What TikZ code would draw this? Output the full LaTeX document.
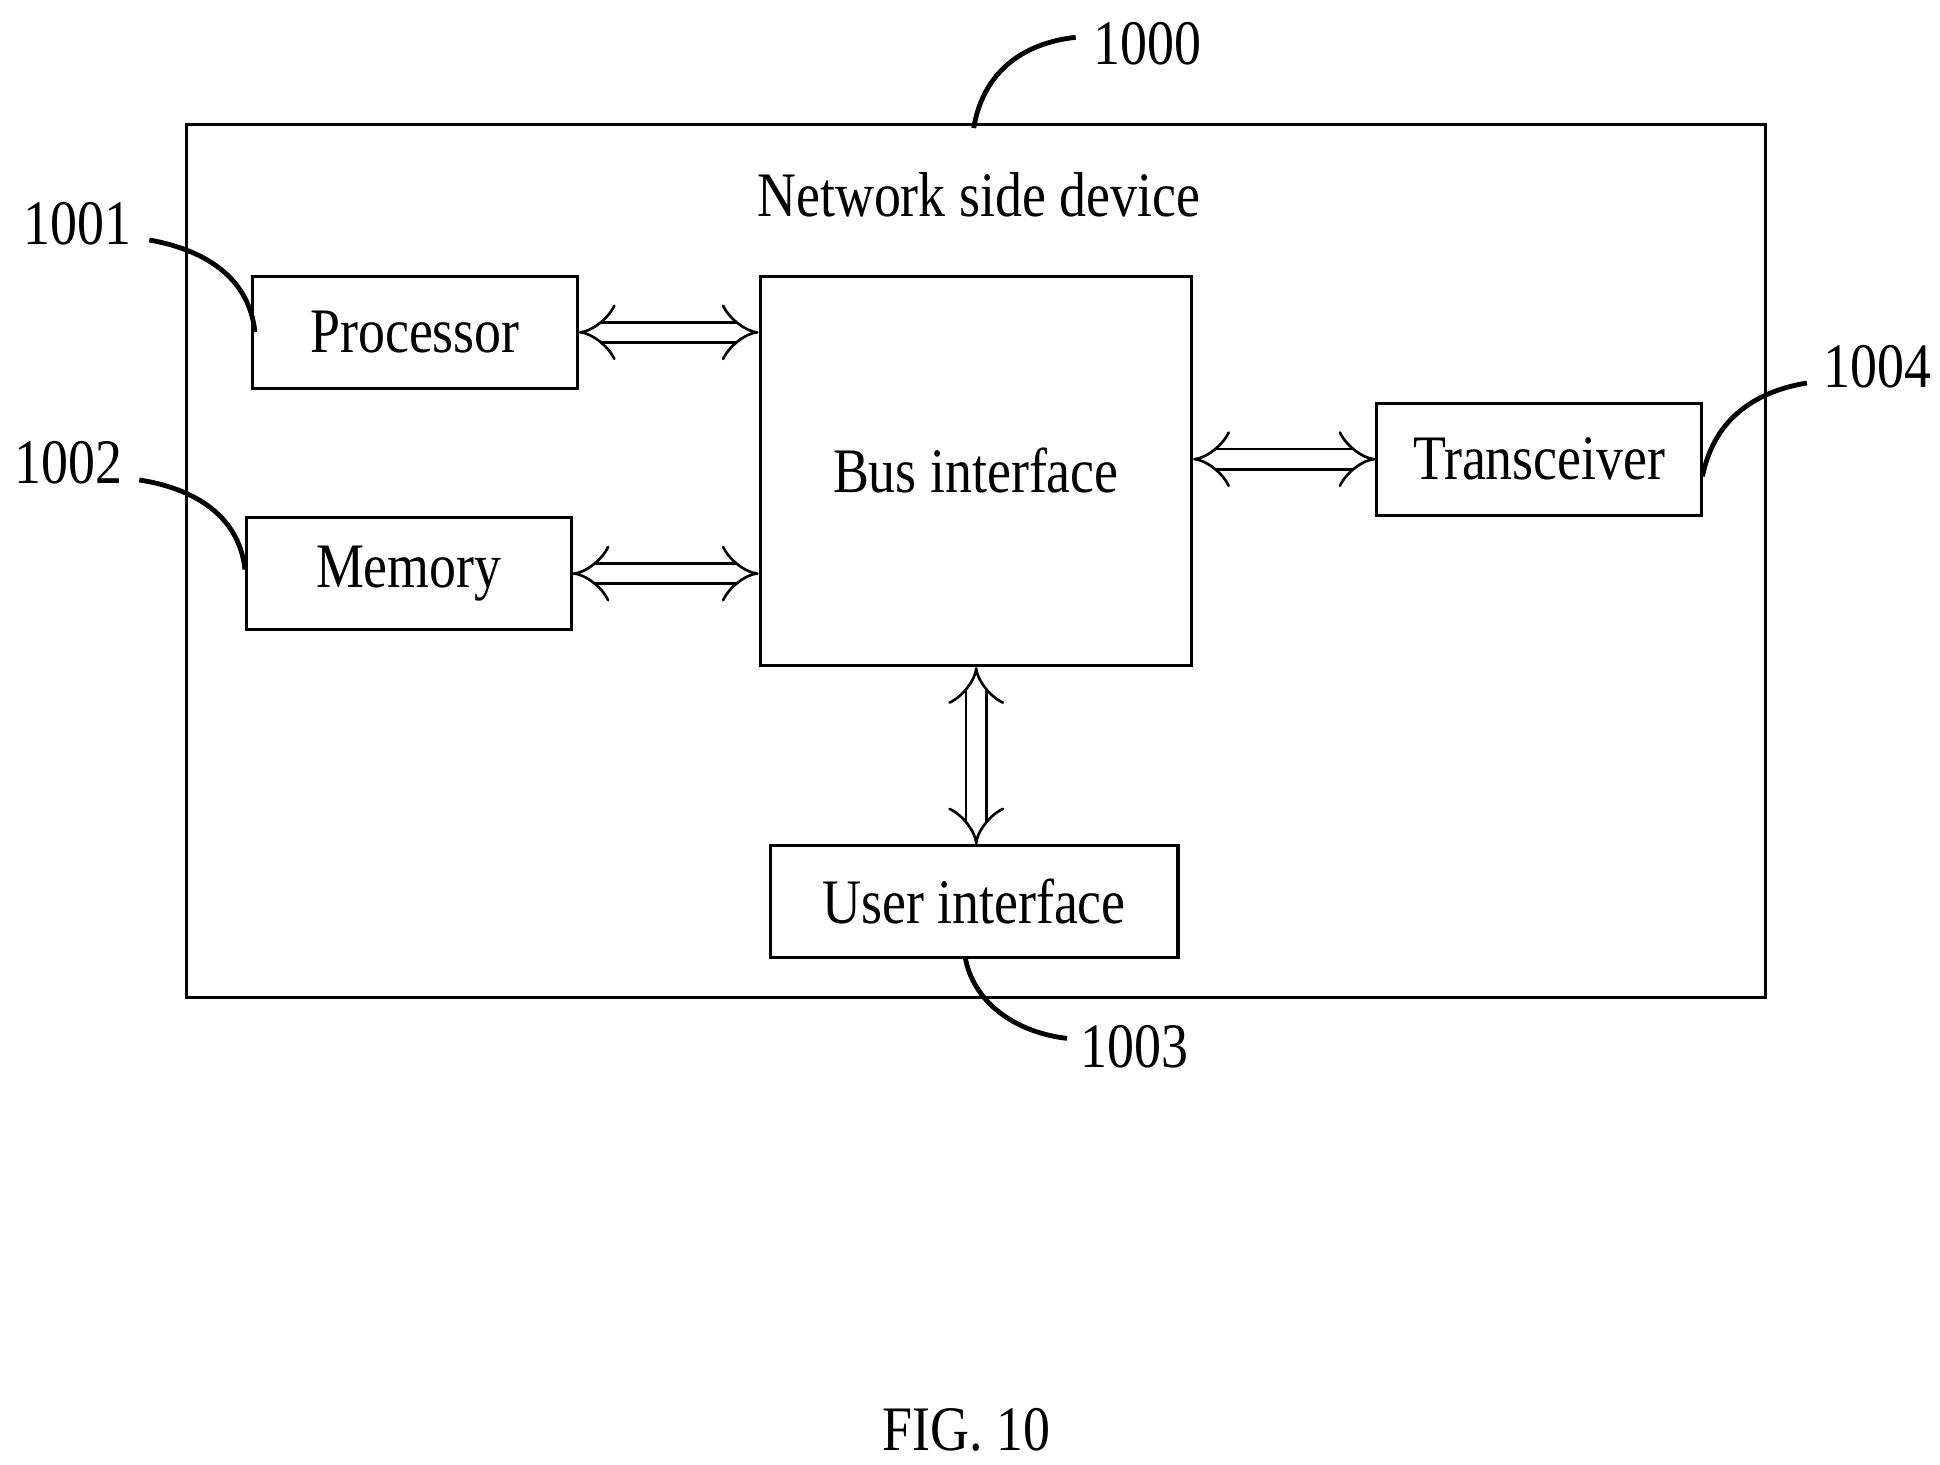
\documentclass[tikz,border=0pt]{standalone}
\usepackage{fontspec}
\setmainfont{Liberation Serif}[FakeStretch=0.85]
\usetikzlibrary{arrows.meta}
\tikzset{
  blk/.style={draw, line width=0.7pt, anchor=north west, inner sep=0pt},
  bus/.style={draw=black, double=white, double distance=4pt, line width=0.6pt, {Implies}-{Implies}},
  lead/.style={line width=1.1pt},
}
\begin{document}
\begin{tikzpicture}[x=0.1mm, y=-0.1mm, font=\fontsize{14.5}{16}\selectfont]
  \useasboundingbox (0,0) rectangle (1560,1178);
  \draw[line width=0.7pt] (150,100) rectangle (1420,802);
  \node (title) at (787,157) {Network side device};

  \node[blk, minimum width=2.61cm, minimum height=0.9cm] (proc) at (202,221) {Processor};
  \node[blk, minimum width=2.61cm, minimum height=0.9cm] (mem) at (197,415) {Memory};
  \node[blk, minimum width=3.47cm, minimum height=3.13cm] (bus) at (610,221) {Bus interface};
  \node[blk, minimum width=2.61cm, minimum height=0.9cm] (trx) at (1106,323) {Transceiver};
  \node[blk, minimum width=3.28cm, minimum height=0.9cm] (ui) at (618,679) {User interface};

  \draw[bus] (proc.east) -- (bus.west |- proc.east);
  \draw[bus] (mem.east) -- (bus.west |- mem.east);
  \draw[bus] (bus.east |- trx.west) -- (trx.west);
  \draw[bus] (bus.south -| 785,0) -- (ui.north -| 785,0);

  % reference numerals
  \node (n1000) at (923,35) {1000};
  \node (n1001) at (62,180) {1001};
  \node (n1002) at (55,372) {1002};
  \node (n1004) at (1510,295) {1004};
  \node (n1003) at (912,842) {1003};
  \draw[lead] (783,103) .. controls (790,60) and (820,35) .. (865,30);
  \draw[lead] (205,267) .. controls (200,220) and (160,200) .. (120,193);
  \draw[lead] (197,458) .. controls (192,412) and (152,392) .. (112,386);
  \draw[lead] (1369,383) .. controls (1378,338) and (1410,315) .. (1453,308);
  \draw[lead] (776,769) .. controls (782,805) and (815,830) .. (858,835);

  \node (fig) at (777,1150) {FIG. 10};
\end{tikzpicture}
\end{document}
